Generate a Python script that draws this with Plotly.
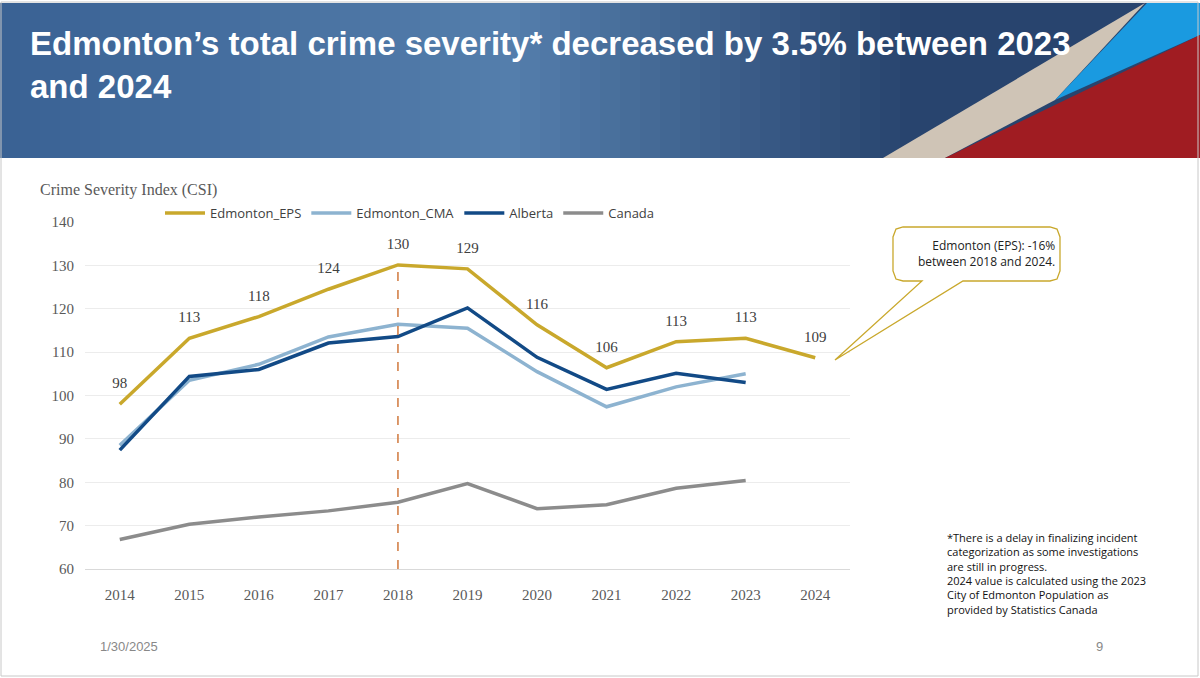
import plotly.graph_objects as go

years = [2014, 2015, 2016, 2017, 2018, 2019, 2020, 2021, 2022, 2023, 2024]
eps = [98, 113.2, 118.2, 124.5, 130.1, 129.2, 116.3, 106.4, 112.4, 113.2, 108.7]
eps_labels = ["98", "113", "118", "124", "130", "129", "116", "106", "113", "113", "109"]
cma = [88.5, 103.5, 107.2, 113.5, 116.4, 115.5, 105.5, 97.4, 102.0, 105.0]
alberta = [87.4, 104.4, 106.0, 112.1, 113.6, 120.2, 108.8, 101.4, 105.1, 103.0]
canada = [66.8, 70.3, 72.0, 73.4, 75.4, 79.7, 73.9, 74.8, 78.6, 80.4]

L, R, T, B = 85, 850, 222, 569
W, H = R - L, B - T


def px(x, y):
    return (x - L) / W, (B - y) / H


def path(points):
    s = ""
    for i, (x, y) in enumerate(points):
        a, b = px(x, y)
        s += ("M" if i == 0 else "L") + f"{a:.4f},{b:.4f} "
    return s + "Z"


def mix(c1, c2, t):
    return "rgb({},{},{})".format(*[round(a + (b - a) * t) for a, b in zip(c1, c2)])


fig = go.Figure()
series = [
    ("Edmonton_EPS", eps, "#c9a82c"),
    ("Edmonton_CMA", cma, "#8db3d0"),
    ("Alberta", alberta, "#124a86"),
    ("Canada", canada, "#8c8c8c"),
]
for name, vals, color in series:
    fig.add_trace(go.Scatter(
        x=years[:len(vals)], y=vals, mode="lines", name=name,
        line=dict(color=color, width=3.5),
    ))

fig.add_trace(go.Scatter(
    x=years, y=[v + 4.5 for v in eps], mode="text", text=eps_labels,
    textfont=dict(family="Liberation Serif", size=15, color="#404040"),
    showlegend=False, hoverinfo="skip",
))

# header gradient: blue -> lighter -> darker
shapes = []
stops = [(0, (58, 98, 148)), (500, (84, 126, 172)), (900, (40, 68, 110)), (1200, (40, 68, 110))]
step = 20
for x in range(0, 1200, step):
    for (xa, ca), (xb, cb) in zip(stops, stops[1:]):
        if xa <= x < xb:
            col = mix(ca, cb, (x - xa) / (xb - xa))
    shapes.append(dict(type="rect", xref="paper", yref="paper", layer="below",
                       x0=px(x, 0)[0], x1=px(x + step + 1, 0)[0],
                       y0=px(0, 158)[1], y1=px(0, 3)[1], fillcolor=col, line_width=0))

shapes += [
    dict(type="path", xref="paper", yref="paper", layer="below", line_width=0,
         fillcolor="#cfc4b6", path=path([(883, 158), (1145, 3), (1055, 100), (945, 158)])),
    dict(type="path", xref="paper", yref="paper", layer="below", line_width=0,
         fillcolor="#1a9ae0", path=path([(1055, 100), (1147, 3), (1200, 3), (1200, 35)])),
    dict(type="path", xref="paper", yref="paper", layer="below", line_width=0,
         fillcolor="#a01c22", path=path([(945, 158), (1200, 35), (1200, 158)])),
    # dashed 2018 line
    dict(type="line", xref="x", yref="y", x0=2018, x1=2018, y0=60, y1=130,
         line=dict(color="#d0783c", width=1.5, dash="dash")),
    # callout
    dict(type="path", xref="paper", yref="paper", fillcolor="white",
         line=dict(color="#c9a82c", width=1.3),
         path=path([(903, 227), (1050, 227), (1057, 229), (1060, 237), (1060, 271),
                    (1057, 279), (1050, 281), (963, 281), (835, 360), (922, 281),
                    (903, 281), (896, 279), (893, 271), (893, 237), (896, 229)])),
    # slide border
    dict(type="rect", xref="paper", yref="paper", x0=px(1, 0)[0], x1=px(1198, 0)[0],
         y0=px(0, 676)[1], y1=px(0, 2)[1], line=dict(color="#c8c8c8", width=1)),
]

annotations = [
    dict(text="Edmonton’s total crime severity* decreased by 3.5% between 2023<br>and 2024",
         x=px(28, 0)[0], y=px(0, 23)[1], xanchor="left", yanchor="top", align="left",
         showarrow=False, xref="paper", yref="paper",
         font=dict(family="Liberation Sans", size=33, color="white", weight="bold")),
    dict(text="Crime Severity Index (CSI)", x=px(38, 0)[0], y=px(0, 190)[1],
         xanchor="left", yanchor="middle", showarrow=False, xref="paper", yref="paper",
         font=dict(family="Liberation Serif", size=16, color="#595959")),
    dict(text="Edmonton (EPS): -16%<br>between 2018 and 2024.", x=px(1057, 0)[0],
         y=px(0, 254)[1], xanchor="right", yanchor="middle", align="right",
         showarrow=False, xref="paper", yref="paper",
         font=dict(family="Open Sans", size=12, color="#222")),
    dict(text="*There is a delay in finalizing incident<br>categorization as some investigations<br>"
              "are still in progress.<br>2024 value is calculated using the 2023<br>"
              "City of Edmonton Population as<br>provided by Statistics Canada",
         x=px(945, 0)[0], y=px(0, 528)[1], xanchor="left", yanchor="top", align="left",
         showarrow=False, xref="paper", yref="paper",
         font=dict(family="Open Sans", size=11, color="#111")),
    dict(text="1/30/2025", x=px(98, 0)[0], y=px(0, 646)[1], xanchor="left",
         yanchor="middle", showarrow=False, xref="paper", yref="paper",
         font=dict(family="Liberation Sans", size=13, color="#888")),
    dict(text="9", x=px(1105, 0)[0], y=px(0, 646)[1], xanchor="right",
         yanchor="middle", showarrow=False, xref="paper", yref="paper",
         font=dict(family="Liberation Sans", size=13, color="#888")),
]

fig.update_layout(
    width=1200, height=678,
    margin=dict(l=L, r=1200 - R, t=T, b=678 - B),
    paper_bgcolor="white", plot_bgcolor="white",
    shapes=shapes, annotations=annotations,
    legend=dict(orientation="h", x=px(160, 0)[0], y=px(0, 213)[1], xanchor="left",
                yanchor="middle", font=dict(family="Open Sans", size=13, color="#404040"),
                bgcolor="rgba(0,0,0,0)", itemwidth=40, tracegroupgap=0),
    xaxis=dict(range=[2013.5, 2024.5], tickvals=years, showgrid=False,
               showline=True, linecolor="#d9d9d9", ticks="", ticklabelstandoff=12,
               tickfont=dict(family="Liberation Serif", size=15, color="#595959")),
    yaxis=dict(range=[60, 140], dtick=10, gridcolor="#ececec", zeroline=False,
               ticks="", ticklabelstandoff=10,
               tickfont=dict(family="Liberation Serif", size=15, color="#595959")),
    showlegend=True,
)

fig.write_html("out.html", config={"displayModeBar": False},
               post_script="document.body.style.margin='0';document.body.style.overflow='hidden';")
